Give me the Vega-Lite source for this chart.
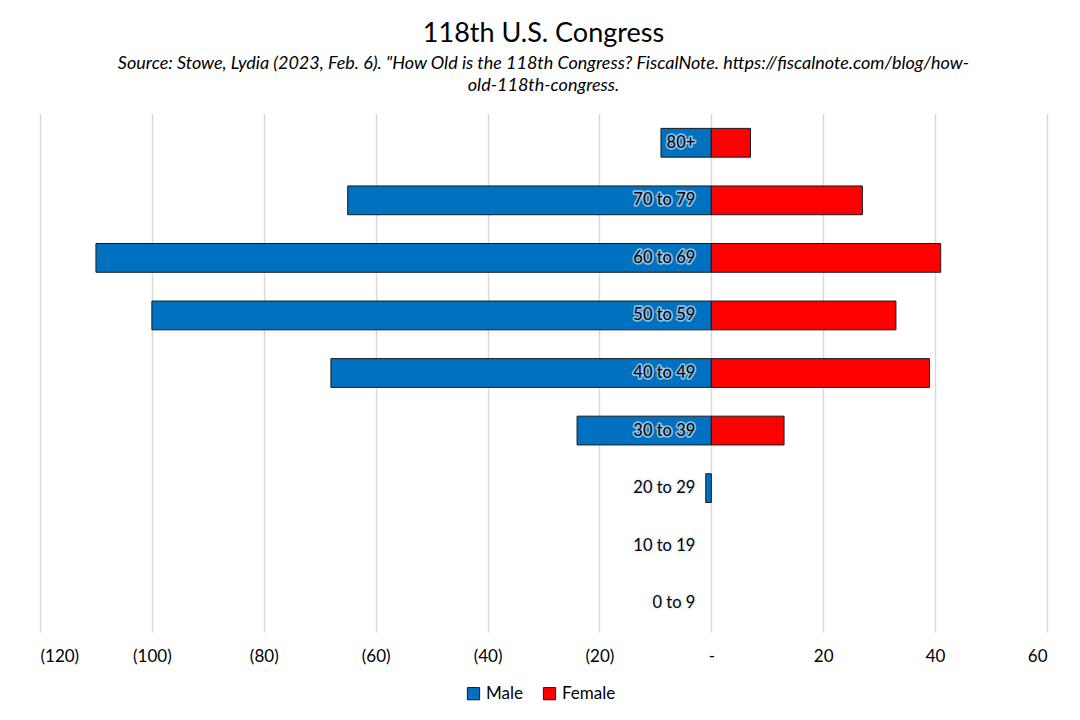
{
  "$schema": "https://vega.github.io/schema/vega-lite/v6.json",
  "description": "Age pyramid of the 118th U.S. Congress",
  "autosize": {"type": "none"},
  "width": 1007,
  "height": 518,
  "padding": {"left": 40, "top": 114, "right": 33, "bottom": 88},
  "background": "#ffffff",
  "title": {
    "text": "118th U.S. Congress",
    "subtitle": [
      "Source: Stowe, Lydia (2023, Feb. 6). \"How Old is the 118th Congress? FiscalNote. https://fiscalnote.com/blog/how-",
      "old-118th-congress."
    ],
    "anchor": "middle",
    "frame": "group",
    "font": "Lato",
    "fontSize": 27,
    "fontWeight": "normal",
    "color": "#000000",
    "subtitleFont": "Lato",
    "subtitleFontSize": 18,
    "subtitleFontStyle": "italic",
    "subtitleColor": "#000000",
    "subtitleLineHeight": 22,
    "subtitlePadding": 7,
    "offset": 18
  },
  "datasets": {
    "pop": [
      {"age": "80+", "sex": "Male", "value": -9},
      {"age": "70 to 79", "sex": "Male", "value": -65},
      {"age": "60 to 69", "sex": "Male", "value": -110},
      {"age": "50 to 59", "sex": "Male", "value": -100},
      {"age": "40 to 49", "sex": "Male", "value": -68},
      {"age": "30 to 39", "sex": "Male", "value": -24},
      {"age": "20 to 29", "sex": "Male", "value": -1},
      {"age": "10 to 19", "sex": "Male", "value": 0},
      {"age": "0 to 9", "sex": "Male", "value": 0},
      {"age": "80+", "sex": "Female", "value": 7},
      {"age": "70 to 79", "sex": "Female", "value": 27},
      {"age": "60 to 69", "sex": "Female", "value": 41},
      {"age": "50 to 59", "sex": "Female", "value": 33},
      {"age": "40 to 49", "sex": "Female", "value": 39},
      {"age": "30 to 39", "sex": "Female", "value": 13},
      {"age": "20 to 29", "sex": "Female", "value": 0},
      {"age": "10 to 19", "sex": "Female", "value": 0},
      {"age": "0 to 9", "sex": "Female", "value": 0}
    ],
    "ages": [
      {"age": "80+"},
      {"age": "70 to 79"},
      {"age": "60 to 69"},
      {"age": "50 to 59"},
      {"age": "40 to 49"},
      {"age": "30 to 39"},
      {"age": "20 to 29"},
      {"age": "10 to 19"},
      {"age": "0 to 9"}
    ]
  },
  "layer": [
    {
      "data": {"name": "pop"},
      "transform": [{"filter": "datum.value != 0"}],
      "mark": {"type": "bar", "stroke": "#1a1a1a", "strokeWidth": 1},
      "encoding": {
        "y": {
          "field": "age",
          "type": "nominal",
          "scale": {
            "domain": ["80+", "70 to 79", "60 to 69", "50 to 59", "40 to 49", "30 to 39", "20 to 29", "10 to 19", "0 to 9"],
            "paddingInner": 0.5,
            "paddingOuter": 0.25
          },
          "axis": null
        },
        "x": {
          "field": "value",
          "type": "quantitative",
          "scale": {"domain": [-120, 60], "nice": false},
          "axis": {
            "title": null,
            "values": [-120, -100, -80, -60, -40, -20, 0, 20, 40, 60],
            "labelExpr": "datum.value < 0 ? '(' + format(-datum.value, ',') + ')' : (datum.value == 0 ? '-' : format(datum.value, ','))",
            "grid": true,
            "gridColor": "#d9d9d9",
            "gridWidth": 1.5,
            "domain": false,
            "ticks": false,
            "labelFont": "Lato",
            "labelFontSize": 17,
            "labelColor": "#000000",
            "labelPadding": 16
          }
        },
        "color": {
          "field": "sex",
          "type": "nominal",
          "scale": {"domain": ["Male", "Female"], "range": ["#0070c0", "#ff0000"]},
          "legend": {
            "title": null,
            "orient": "none",
            "legendX": 425,
            "legendY": 571,
            "direction": "horizontal",
            "symbolType": "square",
            "symbolSize": 150,
            "symbolStrokeColor": "#1a1a1a",
            "symbolStrokeWidth": 1,
            "labelFont": "Lato",
            "labelFontSize": 17,
            "labelColor": "#000000",
            "columnPadding": 18
          }
        }
      }
    },
    {
      "data": {"name": "ages"},
      "mark": {
        "type": "text",
        "align": "right",
        "baseline": "middle",
        "dx": -16,
        "font": "Lato",
        "fontSize": 16.5,
        "fill": null,
        "stroke": "#e4effa",
        "strokeWidth": 3.5,
        "strokeOpacity": 0.6,
        "strokeJoin": "round"
      },
      "encoding": {
        "y": {"field": "age", "type": "nominal"},
        "x": {"datum": 0, "type": "quantitative"},
        "text": {"field": "age"}
      }
    },
    {
      "data": {"name": "ages"},
      "mark": {
        "type": "text",
        "align": "right",
        "baseline": "middle",
        "dx": -16,
        "font": "Lato",
        "fontSize": 16.5,
        "color": "#000000"
      },
      "encoding": {
        "y": {"field": "age", "type": "nominal"},
        "x": {"datum": 0, "type": "quantitative"},
        "text": {"field": "age"}
      }
    }
  ],
  "config": {
    "view": {"stroke": null}
  }
}
